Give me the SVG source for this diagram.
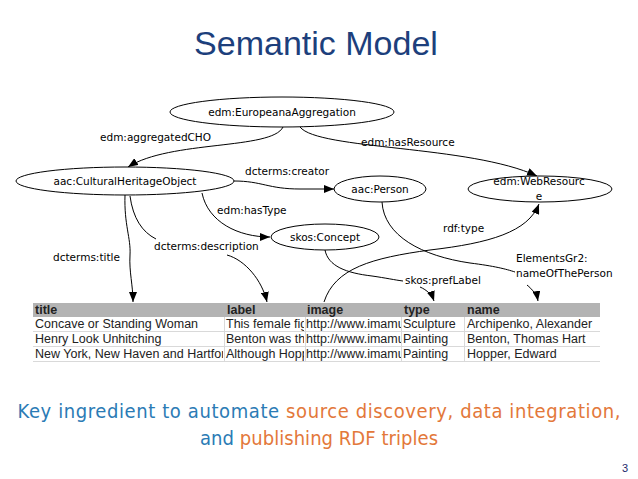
<svg xmlns="http://www.w3.org/2000/svg" width="638" height="479" viewBox="0 0 638 479">
<defs>
<style>
.n ellipse{fill:#fff;stroke:#000;stroke-width:1}
.t{font-family:"DejaVu Sans",sans-serif;font-size:10.5px;fill:#000}
.c{text-anchor:middle}
.e path{fill:none;stroke:#000;stroke-width:1}
.tb{font-family:"Liberation Sans",Arial,sans-serif;font-size:12.5px;fill:#222}
.th{font-weight:bold}
.sep{stroke:#d9d9d9;stroke-width:1}
.bt{font-family:"DejaVu Sans Condensed","DejaVu Sans",sans-serif;font-size:20px;fill:#2b7bb5;text-anchor:middle}
.or{fill:#e3783a}
</style>
<marker id="a" markerWidth="10" markerHeight="8" refX="10" refY="4" orient="auto" markerUnits="userSpaceOnUse">
<path d="M0,0 L10,4 L0,8 Z" fill="#000"/>
</marker>
<clipPath id="c1"><rect x="33" y="300" width="190" height="65"/></clipPath>
<clipPath id="c2"><rect x="224" y="300" width="80" height="65"/></clipPath>
<clipPath id="c3"><rect x="305" y="300" width="96" height="65"/></clipPath>
<clipPath id="c4"><rect x="402" y="300" width="62" height="65"/></clipPath>
<clipPath id="c5"><rect x="465" y="300" width="135" height="65"/></clipPath>
</defs>
<rect width="638" height="479" fill="#fff"/>
<text x="316" y="55" font-family="Liberation Sans,Arial,sans-serif" font-size="34" fill="#1d3f7c" text-anchor="middle">Semantic Model</text>

<!-- table -->
<g id="table">
<rect x="33" y="303" width="567" height="14" fill="#b3b3b3"/>
<rect x="33" y="317" width="567" height="44" fill="#fff"/>
<line class="sep" x1="33" y1="331.5" x2="600" y2="331.5"/>
<line class="sep" x1="33" y1="346.5" x2="600" y2="346.5"/>
<line class="sep" x1="33" y1="361.5" x2="600" y2="361.5"/>
<line class="sep" x1="224.5" y1="317" x2="224.5" y2="361"/>
<line class="sep" x1="305.5" y1="317" x2="305.5" y2="361"/>
<line class="sep" x1="401.5" y1="317" x2="401.5" y2="361"/>
<line class="sep" x1="464.5" y1="317" x2="464.5" y2="361"/>
<g clip-path="url(#c1)" class="tb">
<text class="th" x="35" y="314">title</text>
<text x="35" y="328">Concave or Standing Woman</text>
<text x="35" y="343">Henry Look Unhitching</text>
<text x="35" y="358">New York, New Haven and Hartfor</text>
</g>
<g clip-path="url(#c2)" class="tb">
<text class="th" x="227" y="314">label</text>
<text x="226" y="328">This female fig</text>
<text x="226" y="343">Benton was th</text>
<text x="226" y="358">Although Hopp</text>
</g>
<g clip-path="url(#c3)" class="tb">
<text class="th" x="307" y="314">image</text>
<text x="306" y="328">http://www.imamu</text>
<text x="306" y="343">http://www.imamu</text>
<text x="306" y="358">http://www.imamu</text>
</g>
<g clip-path="url(#c4)" class="tb">
<text class="th" x="404" y="314">type</text>
<text x="403" y="328">Sculpture</text>
<text x="403" y="343">Painting</text>
<text x="403" y="358">Painting</text>
</g>
<g clip-path="url(#c5)" class="tb">
<text class="th" x="467" y="314">name</text>
<text x="467" y="328">Archipenko, Alexander</text>
<text x="467" y="343">Benton, Thomas Hart</text>
<text x="467" y="358">Hopper, Edward</text>
</g>
</g>

<!-- connectors -->
<g id="edges" class="e">
<path d="M283,127 C272,150 170,140 128,167" marker-end="url(#a)"/>
<path d="M300,127 C318,150 470,145 537,176" marker-end="url(#a)"/>
<path d="M234,181 C262,181 268,189 300,189 L334,189" marker-end="url(#a)"/>
<path d="M202,193 C208,222 238,237 270,237" marker-end="url(#a)"/>
<path d="M125,195 C124,225 131,238 130,255 C129,272 133,285 133,302" marker-end="url(#a)"/>
<path d="M130,196 C133,218 142,232 156,239"/>
<path d="M227,255 C245,260 262,280 267,302" marker-end="url(#a)"/>
<path d="M382,202 C384,236 422,256 470,263 C494,266 506,269 515,272"/>
<path d="M527,285 C532,289 537,295 538,301" marker-end="url(#a)"/>
<path d="M324,302 C335,268 372,258 430,250 C490,243 528,232 539,204" marker-end="url(#a)"/>
<path d="M325,250 C328,266 346,273 372,276 C386,278 395,280 403,281"/>
<path d="M420,287 C427,290 432,295 434,301" marker-end="url(#a)"/>
</g>
<g id="edge-labels" class="t">
<text x="100" y="141">edm:aggregatedCHO</text>
<text x="361" y="146">edm:hasResource</text>
<text x="245" y="175">dcterms:creator</text>
<text x="217" y="214">edm:hasType</text>
<text x="154" y="250">dcterms:description</text>
<text x="53" y="261">dcterms:title</text>
<text x="443" y="232">rdf:type</text>
<text x="405" y="284">skos:prefLabel</text>
<text x="516" y="262">ElementsGr2:</text>
<text x="516" y="277">nameOfThePerson</text>
</g>

<!-- nodes -->
<g id="n-agg" class="n">
<ellipse cx="282" cy="112" rx="112" ry="15"/>
<text class="t c" x="282" y="116">edm:EuropeanaAggregation</text>
</g>
<g id="n-cho" class="n">
<ellipse cx="125" cy="181" rx="109" ry="14"/>
<text class="t c" x="125" y="185">aac:CulturalHeritageObject</text>
</g>
<g id="n-person" class="n">
<ellipse cx="380" cy="189" rx="46" ry="13"/>
<text class="t c" x="380" y="193">aac:Person</text>
</g>
<g id="n-web" class="n">
<ellipse cx="540" cy="189" rx="72" ry="13"/>
<text class="t c" x="539" y="185">edm:WebResourc</text>
<text class="t c" x="539" y="200">e</text>
</g>
<g id="n-concept" class="n">
<ellipse cx="325" cy="237" rx="54" ry="13"/>
<text class="t c" x="325" y="241">skos:Concept</text>
</g>

<text class="bt" x="319" y="418" textLength="603">Key ingredient to automate <tspan class="or">source discovery, data integration,</tspan></text>
<text class="bt" x="319" y="445" textLength="238">and <tspan class="or">publishing RDF triples</tspan></text>
<text x="628" y="472" font-family="Liberation Sans,Arial,sans-serif" font-size="11" text-anchor="end" fill="#1d2a6c">3</text>
</svg>
